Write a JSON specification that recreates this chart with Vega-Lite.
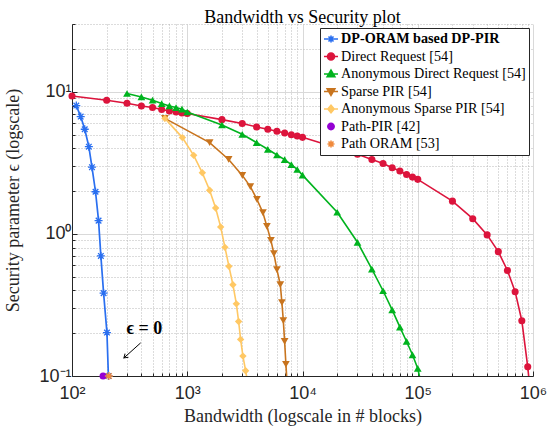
{
  "$schema": "https://vega.github.io/schema/vega-lite/v6.json",
  "width": 461,
  "height": 352,
  "autosize": {"type": "none"},
  "padding": {"left": 72, "top": 24, "right": 22, "bottom": 51},
  "background": "white",
  "config": {"view": {"stroke": null}, "legend": {"labelFont": "Liberation Serif", "labelFontSize": 14.2, "labelColor": "#000000"}},
  "title": {"text": "Bandwidth vs Security plot", "font": "Liberation Serif", "fontSize": 18, "fontWeight": "normal", "color": "#000000", "offset": 3, "dy": 15, "anchor": "middle"},
  "datasets": {
    "main": [
      {"s": "DP-ORAM based DP-PIR", "x": 109, "y": 8.0},
      {"s": "DP-ORAM based DP-PIR", "x": 119, "y": 6.69},
      {"s": "DP-ORAM based DP-PIR", "x": 129, "y": 5.45},
      {"s": "DP-ORAM based DP-PIR", "x": 140, "y": 4.11},
      {"s": "DP-ORAM based DP-PIR", "x": 149, "y": 2.95},
      {"s": "DP-ORAM based DP-PIR", "x": 160, "y": 1.98},
      {"s": "DP-ORAM based DP-PIR", "x": 170, "y": 1.24},
      {"s": "DP-ORAM based DP-PIR", "x": 178, "y": 0.70},
      {"s": "DP-ORAM based DP-PIR", "x": 188, "y": 0.383},
      {"s": "DP-ORAM based DP-PIR", "x": 201, "y": 0.202},
      {"s": "DP-ORAM based DP-PIR", "x": 207, "y": 0.1},
      {"s": "Direct Request [54]", "x": 100, "y": 9.35},
      {"s": "Direct Request [54]", "x": 200, "y": 8.73},
      {"s": "Direct Request [54]", "x": 300, "y": 8.31},
      {"s": "Direct Request [54]", "x": 400, "y": 7.95},
      {"s": "Direct Request [54]", "x": 500, "y": 7.75},
      {"s": "Direct Request [54]", "x": 600, "y": 7.5},
      {"s": "Direct Request [54]", "x": 700, "y": 7.33},
      {"s": "Direct Request [54]", "x": 800, "y": 7.2},
      {"s": "Direct Request [54]", "x": 900, "y": 7.1},
      {"s": "Direct Request [54]", "x": 1000, "y": 7.03},
      {"s": "Direct Request [54]", "x": 2000, "y": 6.37},
      {"s": "Direct Request [54]", "x": 3000, "y": 5.98},
      {"s": "Direct Request [54]", "x": 4000, "y": 5.66},
      {"s": "Direct Request [54]", "x": 5000, "y": 5.45},
      {"s": "Direct Request [54]", "x": 6000, "y": 5.27},
      {"s": "Direct Request [54]", "x": 7000, "y": 5.13},
      {"s": "Direct Request [54]", "x": 8000, "y": 4.99},
      {"s": "Direct Request [54]", "x": 9000, "y": 4.88},
      {"s": "Direct Request [54]", "x": 10000, "y": 4.78},
      {"s": "Direct Request [54]", "x": 20000, "y": 4.02},
      {"s": "Direct Request [54]", "x": 30000, "y": 3.63},
      {"s": "Direct Request [54]", "x": 40000, "y": 3.34},
      {"s": "Direct Request [54]", "x": 50000, "y": 3.13},
      {"s": "Direct Request [54]", "x": 60000, "y": 2.92},
      {"s": "Direct Request [54]", "x": 70000, "y": 2.77},
      {"s": "Direct Request [54]", "x": 80000, "y": 2.62},
      {"s": "Direct Request [54]", "x": 90000, "y": 2.51},
      {"s": "Direct Request [54]", "x": 100000, "y": 2.42},
      {"s": "Direct Request [54]", "x": 200000, "y": 1.70},
      {"s": "Direct Request [54]", "x": 300000, "y": 1.28},
      {"s": "Direct Request [54]", "x": 400000, "y": 0.984},
      {"s": "Direct Request [54]", "x": 500000, "y": 0.75},
      {"s": "Direct Request [54]", "x": 600000, "y": 0.553},
      {"s": "Direct Request [54]", "x": 700000, "y": 0.392},
      {"s": "Direct Request [54]", "x": 800000, "y": 0.245},
      {"s": "Direct Request [54]", "x": 900000, "y": 0.116},
      {"s": "Anonymous Direct Request [54]", "x": 300, "y": 9.73},
      {"s": "Anonymous Direct Request [54]", "x": 400, "y": 9.2},
      {"s": "Anonymous Direct Request [54]", "x": 500, "y": 8.73},
      {"s": "Anonymous Direct Request [54]", "x": 600, "y": 8.27},
      {"s": "Anonymous Direct Request [54]", "x": 700, "y": 7.95},
      {"s": "Anonymous Direct Request [54]", "x": 800, "y": 7.75},
      {"s": "Anonymous Direct Request [54]", "x": 900, "y": 7.54},
      {"s": "Anonymous Direct Request [54]", "x": 1000, "y": 7.21},
      {"s": "Anonymous Direct Request [54]", "x": 2000, "y": 5.84},
      {"s": "Anonymous Direct Request [54]", "x": 3000, "y": 5.02},
      {"s": "Anonymous Direct Request [54]", "x": 4000, "y": 4.39},
      {"s": "Anonymous Direct Request [54]", "x": 5000, "y": 3.94},
      {"s": "Anonymous Direct Request [54]", "x": 6000, "y": 3.59},
      {"s": "Anonymous Direct Request [54]", "x": 7000, "y": 3.33},
      {"s": "Anonymous Direct Request [54]", "x": 8000, "y": 3.07},
      {"s": "Anonymous Direct Request [54]", "x": 9000, "y": 2.84},
      {"s": "Anonymous Direct Request [54]", "x": 10000, "y": 2.59},
      {"s": "Anonymous Direct Request [54]", "x": 20000, "y": 1.42},
      {"s": "Anonymous Direct Request [54]", "x": 30000, "y": 0.873},
      {"s": "Anonymous Direct Request [54]", "x": 40000, "y": 0.566},
      {"s": "Anonymous Direct Request [54]", "x": 50000, "y": 0.398},
      {"s": "Anonymous Direct Request [54]", "x": 60000, "y": 0.292},
      {"s": "Anonymous Direct Request [54]", "x": 70000, "y": 0.221},
      {"s": "Anonymous Direct Request [54]", "x": 80000, "y": 0.175},
      {"s": "Anonymous Direct Request [54]", "x": 90000, "y": 0.141},
      {"s": "Anonymous Direct Request [54]", "x": 100000, "y": 0.113},
      {"s": "Sparse PIR [54]", "x": 640, "y": 6.5},
      {"s": "Sparse PIR [54]", "x": 1564, "y": 4.39},
      {"s": "Sparse PIR [54]", "x": 2286, "y": 3.34},
      {"s": "Sparse PIR [54]", "x": 3006, "y": 2.58},
      {"s": "Sparse PIR [54]", "x": 3527, "y": 2.15},
      {"s": "Sparse PIR [54]", "x": 4023, "y": 1.75},
      {"s": "Sparse PIR [54]", "x": 4535, "y": 1.41},
      {"s": "Sparse PIR [54]", "x": 4910, "y": 1.13},
      {"s": "Sparse PIR [54]", "x": 5320, "y": 0.901},
      {"s": "Sparse PIR [54]", "x": 5648, "y": 0.726},
      {"s": "Sparse PIR [54]", "x": 5998, "y": 0.56},
      {"s": "Sparse PIR [54]", "x": 6420, "y": 0.439},
      {"s": "Sparse PIR [54]", "x": 6626, "y": 0.329},
      {"s": "Sparse PIR [54]", "x": 6817, "y": 0.245},
      {"s": "Sparse PIR [54]", "x": 6996, "y": 0.175},
      {"s": "Sparse PIR [54]", "x": 7178, "y": 0.121},
      {"s": "Anonymous Sparse PIR [54]", "x": 640, "y": 6.5},
      {"s": "Anonymous Sparse PIR [54]", "x": 907, "y": 4.76},
      {"s": "Anonymous Sparse PIR [54]", "x": 1137, "y": 3.57},
      {"s": "Anonymous Sparse PIR [54]", "x": 1352, "y": 2.69},
      {"s": "Anonymous Sparse PIR [54]", "x": 1564, "y": 2.03},
      {"s": "Anonymous Sparse PIR [54]", "x": 1763, "y": 1.52},
      {"s": "Anonymous Sparse PIR [54]", "x": 1949, "y": 1.12},
      {"s": "Anonymous Sparse PIR [54]", "x": 2124, "y": 0.804},
      {"s": "Anonymous Sparse PIR [54]", "x": 2300, "y": 0.591},
      {"s": "Anonymous Sparse PIR [54]", "x": 2491, "y": 0.439},
      {"s": "Anonymous Sparse PIR [54]", "x": 2667, "y": 0.322},
      {"s": "Anonymous Sparse PIR [54]", "x": 2791, "y": 0.242},
      {"s": "Anonymous Sparse PIR [54]", "x": 2904, "y": 0.181},
      {"s": "Anonymous Sparse PIR [54]", "x": 3041, "y": 0.138},
      {"s": "Anonymous Sparse PIR [54]", "x": 3210, "y": 0.109},
      {"s": "Path-PIR [42]", "x": 186, "y": 0.1},
      {"s": "Path ORAM [53]", "x": 209, "y": 0.1}
    ],
    "tails": [
      {"s": "Direct Request [54]", "x": 900000, "y": 0.116},
      {"s": "Direct Request [54]", "x": 1000000, "y": 0.05},
      {"s": "Anonymous Direct Request [54]", "x": 100000, "y": 0.113},
      {"s": "Anonymous Direct Request [54]", "x": 110000, "y": 0.08},
      {"s": "Sparse PIR [54]", "x": 7178, "y": 0.121},
      {"s": "Sparse PIR [54]", "x": 7480, "y": 0.07},
      {"s": "Anonymous Sparse PIR [54]", "x": 3210, "y": 0.109},
      {"s": "Anonymous Sparse PIR [54]", "x": 3540, "y": 0.07}
    ],
    "legend": [
      {"s": "DP-ORAM based DP-PIR"},
      {"s": "Direct Request [54]"},
      {"s": "Anonymous Direct Request [54]"},
      {"s": "Sparse PIR [54]"},
      {"s": "Anonymous Sparse PIR [54]"},
      {"s": "Path-PIR [42]"},
      {"s": "Path ORAM [53]"}
    ],
    "note": [{"x": 425, "y": 0.215, "t": "ϵ = 0"}],
    "arrow": [{"x": 394, "y": 0.171, "x2": 282, "y2": 0.134}]
  },
  "encoding": {
    "x": {
      "field": "x", "type": "quantitative",
      "scale": {"type": "log", "domain": [100, 1000000], "nice": false},
      "axis": {
        "title": "Bandwidth (logscale in # blocks)",
        "titleFont": "Liberation Serif", "titleFontSize": 18, "titleFontWeight": "normal", "titleColor": "#262626", "titlePadding": 3,
        "values": [100,200,300,400,500,600,700,800,900,1000,2000,3000,4000,5000,6000,7000,8000,9000,10000,20000,30000,40000,50000,60000,70000,80000,90000,100000,200000,300000,400000,500000,600000,700000,800000,900000,1000000],
        "labelExpr": "datum.value == 100 ? '10²' : datum.value == 1000 ? '10³' : datum.value == 10000 ? '10⁴' : datum.value == 100000 ? '10⁵' : datum.value == 1000000 ? '10⁶' : ''",
        "labelFont": "Liberation Sans", "labelFontSize": 18, "labelColor": "#262626", "labelPadding": 13, "labelFlush": false, "labelOverlap": false,
        "grid": true,
        "gridColor": {"condition": {"test": "indexof([100,1000,10000,100000,1000000], datum.value) >= 0", "value": "#d9d9d9"}, "value": "#b8b8b8"},
        "gridDash": {"condition": {"test": "indexof([100,1000,10000,100000,1000000], datum.value) >= 0", "value": []}, "value": [1, 2]},
        "ticks": true,
        "tickSize": {"condition": {"test": "indexof([100,1000,10000,100000,1000000], datum.value) >= 0", "value": -5}, "value": -3},
        "tickColor": "#262626",
        "domainColor": "#262626"
      }
    },
    "y": {
      "field": "y", "type": "quantitative",
      "scale": {"type": "log", "domain": [0.1, 30], "nice": false},
      "axis": {
        "title": "Security parameter ϵ (logscale)",
        "titleFont": "Liberation Serif", "titleFontSize": 18, "titleFontWeight": "normal", "titleColor": "#262626", "titlePadding": 16,
        "values": [0.1,0.2,0.3,0.4,0.5,0.6,0.7,0.8,0.9,1,2,3,4,5,6,7,8,9,10,20,30],
        "labelExpr": "datum.value == 0.1 ? '10⁻¹' : datum.value == 1 ? '10⁰' : datum.value == 10 ? '10¹' : ''",
        "labelFont": "Liberation Sans", "labelFontSize": 18, "labelColor": "#262626", "labelPadding": 6, "labelFlush": false, "labelOverlap": false,
        "grid": true,
        "gridColor": {"condition": {"test": "indexof([0.1,1,10], datum.value) >= 0", "value": "#d9d9d9"}, "value": "#b8b8b8"},
        "gridDash": {"condition": {"test": "indexof([0.1,1,10], datum.value) >= 0", "value": []}, "value": [1, 2]},
        "ticks": true,
        "tickSize": {"condition": {"test": "indexof([0.1,1,10], datum.value) >= 0", "value": -5}, "value": -3},
        "tickColor": "#262626",
        "domainColor": "#262626"
      }
    }
  },
  "layer": [
    {
      "data": {"name": "tails"},
      "mark": {"type": "line", "strokeWidth": 1.6, "clip": true},
      "encoding": {
        "color": {"field": "s", "type": "nominal", "legend": null,
          "scale": {"domain": ["Direct Request [54]", "Anonymous Direct Request [54]", "Sparse PIR [54]", "Anonymous Sparse PIR [54]"], "range": ["#dc143c", "#00b31e", "#c8741e", "#ffc864"]}}
      }
    },
    {
      "data": {"name": "main"},
      "transform": [{"filter": "datum.s == 'DP-ORAM based DP-PIR'"}],
      "mark": {"type": "line", "color": "#2a6ff0", "strokeWidth": 1.7,
        "point": {"shape": "M-1,0L1,0M0,-1L0,1M-0.7,-0.7L0.7,0.7M-0.7,0.7L0.7,-0.7", "filled": false, "color": "#2a6ff0", "size": 64, "strokeWidth": 1.3}}
    },
    {
      "data": {"name": "main"},
      "transform": [{"filter": "datum.s == 'Direct Request [54]'"}],
      "mark": {"type": "line", "color": "#dc143c", "strokeWidth": 1.6,
        "point": {"shape": "circle", "filled": true, "color": "#dc143c", "size": 50}}
    },
    {
      "data": {"name": "main"},
      "transform": [{"filter": "datum.s == 'Anonymous Direct Request [54]'"}],
      "mark": {"type": "line", "color": "#00b31e", "strokeWidth": 1.6,
        "point": {"shape": "triangle-up", "filled": true, "color": "#00b31e", "size": 60}}
    },
    {
      "data": {"name": "main"},
      "transform": [{"filter": "datum.s == 'Sparse PIR [54]'"}],
      "mark": {"type": "line", "color": "#c8741e", "strokeWidth": 1.6,
        "point": {"shape": "triangle-down", "filled": true, "color": "#c8741e", "size": 60}}
    },
    {
      "data": {"name": "main"},
      "transform": [{"filter": "datum.s == 'Anonymous Sparse PIR [54]'"}],
      "mark": {"type": "line", "color": "#ffc864", "strokeWidth": 1.6,
        "point": {"shape": "diamond", "filled": true, "color": "#ffc864", "size": 55}}
    },
    {
      "data": {"name": "main"},
      "transform": [{"filter": "datum.s == 'Path-PIR [42]'"}],
      "mark": {"type": "point", "shape": "circle", "filled": true, "color": "#9400d3", "size": 50, "opacity": 1}
    },
    {
      "data": {"name": "main"},
      "transform": [{"filter": "datum.s == 'Path ORAM [53]'"}],
      "mark": {"type": "point", "shape": "M-1,0L1,0M0,-1L0,1M-0.7,-0.7L0.7,0.7M-0.7,0.7L0.7,-0.7", "filled": false, "color": "#f08a3c", "size": 64, "strokeWidth": 1.3, "opacity": 1}
    },
    {
      "data": {"name": "note"},
      "mark": {"type": "text", "font": "Liberation Serif", "fontSize": 18, "fontWeight": "bold", "color": "#000000", "align": "center", "baseline": "middle"},
      "encoding": {"text": {"field": "t"}}
    },
    {
      "data": {"name": "arrow"},
      "mark": {"type": "rule", "color": "#000000", "strokeWidth": 1},
      "encoding": {"x2": {"field": "x2"}, "y2": {"field": "y2"}}
    },
    {
      "data": {"name": "arrow"},
      "mark": {"type": "point", "shape": "M-0.8,1.2L0,0L0.8,1.2", "filled": false, "color": "#000000", "size": 40, "strokeWidth": 1, "angle": 229, "opacity": 1},
      "encoding": {"x": {"field": "x2", "type": "quantitative"}, "y": {"field": "y2", "type": "quantitative"}}
    },
    {
      "data": {"name": "legend"},
      "mark": {"type": "point", "filled": true, "opacity": 0},
      "encoding": {
        "fill": {"field": "s", "type": "nominal",
          "scale": {"domain": ["DP-ORAM based DP-PIR", "Direct Request [54]", "Anonymous Direct Request [54]", "Sparse PIR [54]", "Anonymous Sparse PIR [54]", "Path-PIR [42]", "Path ORAM [53]"],
                    "range": ["#2a6ff0", "#dc143c", "#00b31e", "#c8741e", "#ffc864", "#9400d3", "#f08a3c"]},
          "legend": {"title": null, "orient": "top-right", "offset": 4, "padding": 3, "strokeColor": "#262626", "fillColor": "white",
            "labelFont": "Liberation Serif", "labelFontSize": 14.2, "labelColor": "#000000", "labelOffset": 2, "labelLimit": 400,
            "labelFontWeight": {"expr": "datum.value == 'DP-ORAM based DP-PIR' ? 'bold' : 'normal'"},
            "symbolSize": 196, "symbolStrokeWidth": 1.6, "symbolOpacity": 1, "rowPadding": 1.5}},
        "stroke": {"field": "s", "type": "nominal",
          "scale": {"domain": ["DP-ORAM based DP-PIR", "Direct Request [54]", "Anonymous Direct Request [54]", "Sparse PIR [54]", "Anonymous Sparse PIR [54]", "Path-PIR [42]", "Path ORAM [53]"],
                    "range": ["#2a6ff0", "#dc143c", "#00b31e", "#c8741e", "#ffc864", "#9400d3", "#f08a3c"]},
          "legend": {"title": null, "orient": "top-right", "offset": 4, "padding": 3, "strokeColor": "#262626", "fillColor": "white",
            "labelFont": "Liberation Serif", "labelFontSize": 14.2, "labelColor": "#000000", "labelOffset": 2, "labelLimit": 400,
            "labelFontWeight": {"expr": "datum.value == 'DP-ORAM based DP-PIR' ? 'bold' : 'normal'"},
            "symbolSize": 196, "symbolStrokeWidth": 1.6, "symbolOpacity": 1, "rowPadding": 1.5}},
        "shape": {"field": "s", "type": "nominal",
          "scale": {"domain": ["DP-ORAM based DP-PIR", "Direct Request [54]", "Anonymous Direct Request [54]", "Sparse PIR [54]", "Anonymous Sparse PIR [54]", "Path-PIR [42]", "Path ORAM [53]"],
                    "range": [
                      "M-1,0L1,0M-0.5,0L0.5,0M0,-0.5L0,0.5M-0.36,-0.36L0.36,0.36M-0.36,0.36L0.36,-0.36",
                      "M-1,0L1,0M-0.5,0A0.5,0.5,0,1,1,0.5,0A0.5,0.5,0,1,1,-0.5,0Z",
                      "M-1,0L1,0M0,-0.55L0.55,0.4L-0.55,0.4Z",
                      "M-1,0L1,0M0,0.55L0.55,-0.4L-0.55,-0.4Z",
                      "M-1,0L1,0M0,-0.55L0.45,0L0,0.55L-0.45,0Z",
                      "M-0.45,0A0.45,0.45,0,1,1,0.45,0A0.45,0.45,0,1,1,-0.45,0Z",
                      "M-0.5,0L0.5,0M0,-0.5L0,0.5M-0.36,-0.36L0.36,0.36M-0.36,0.36L0.36,-0.36"
                    ]},
          "legend": {"title": null, "orient": "top-right", "offset": 4, "padding": 3, "strokeColor": "#262626", "fillColor": "white",
            "labelFont": "Liberation Serif", "labelFontSize": 14.2, "labelColor": "#000000", "labelOffset": 2, "labelLimit": 400,
            "labelFontWeight": {"expr": "datum.value == 'DP-ORAM based DP-PIR' ? 'bold' : 'normal'"},
            "symbolSize": 196, "symbolStrokeWidth": 1.6, "symbolOpacity": 1, "rowPadding": 1.5}}
      }
    }
  ]
}
